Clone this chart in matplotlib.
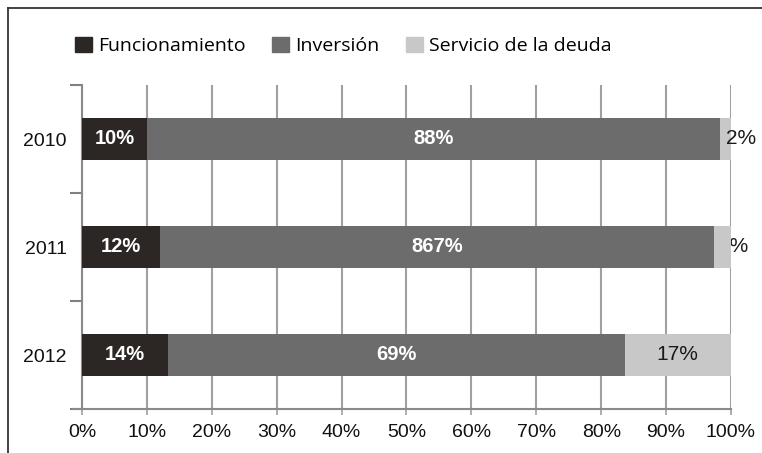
import matplotlib
matplotlib.use("Agg")
import matplotlib.pyplot as plt
from matplotlib.lines import Line2D
from matplotlib.patches import Patch
import numpy as np

years = ["2010", "2011", "2012"]
funcionamiento = [10, 12, 13.3]
inversion = [88.3, 85.4, 70.3]
servicio = [1.7, 2.6, 16.4]
lab_func = ["10%", "12%", "14%"]
lab_inv = ["88%", "867%", "69%"]
lab_serv = ["2%", "3%", "17%"]
series_names = ["Funcionamiento", "Inversión", "Servicio de la deuda"]
xticks = [0, 10, 20, 30, 40, 50, 60, 70, 80, 90, 100]
xticklabels = [f"{v}%" for v in xticks]

c_func = "#2c2624"
c_inv = "#6d6c6c"
c_serv = "#c8c8c8"
grid_c = "#a0a0a0"

sans = ["Liberation Sans", "DejaVu Sans"]

fig = plt.figure(figsize=(7.62, 4.53), dpi=100)
ax = fig.add_axes([82/762, 1-409/453, (731-82)/762, (409-85)/453])

y = np.arange(len(years))
h = 0.39
f = np.array(funcionamiento)
i = np.array(inversion)
s = np.array(servicio)

ax.set_xlim(0, 100)
ax.set_ylim(2.5, -0.5)
ax.set_xticks(xticks)
ax.xaxis.grid(True, color=grid_c, linewidth=1.5, zorder=0)
ax.set_axisbelow(True)

ax.barh(y, f, height=h, color=c_func, zorder=3)
ax.barh(y, i, left=f, height=h, color=c_inv, zorder=3)
ax.barh(y, s, left=f + i, height=h, color=c_serv, zorder=3)

for k in range(len(years)):
    ax.text(f[k] / 2, y[k], lab_func[k], ha="center", va="center", color="white",
            fontsize=14.5, fontweight="bold", family=sans, zorder=5)
    ax.text(f[k] + i[k] / 2, y[k], lab_inv[k], ha="center", va="center", color="white",
            fontsize=14.5, fontweight="bold", family=sans, zorder=5)
    if s[k] > 8:
        ax.text(f[k] + i[k] + s[k] / 2, y[k], lab_serv[k], ha="center", va="center",
                color="#1a1a1a", fontsize=15, family=sans, zorder=5)
    elif k == 0:
        ax.text(99.3, y[k], lab_serv[k], ha="left", va="center",
                color="#1a1a1a", fontsize=15, family=sans, zorder=5, clip_on=False)
    else:
        ax.text(98.1, y[k], lab_serv[k], ha="left", va="center",
                color="#1a1a1a", fontsize=15, family=sans, zorder=2, clip_on=False)

ax.set_xticklabels(xticklabels, fontsize=14, family=sans, color="#111111")
ax.set_yticks(y)
ax.set_yticklabels(years, fontsize=14, family=sans, color="#111111")
ax.set_yticks([-0.5, 0.5, 1.5, 2.5], minor=True)
ax.tick_params(axis="y", which="major", length=0, pad=11)
ax.tick_params(axis="y", which="minor", length=9, width=1.5, color="#808080")
ax.tick_params(axis="x", which="major", length=4, width=1.2, color=grid_c, pad=7)

for side in ["top", "right"]:
    ax.spines[side].set_visible(False)
for side in ["left", "bottom"]:
    ax.spines[side].set_color("#8a8a8a")
    ax.spines[side].set_linewidth(1.5)
ax.spines["bottom"].set_bounds(-1.4, 100)

handles = [Patch(color=c_func), Patch(color=c_inv), Patch(color=c_serv)]
fig.legend(handles, series_names, loc="center left", bbox_to_anchor=(57/762, 1-46/453),
           ncol=3, frameon=False, prop={"family": "Open Sans", "size": 14},
           handlelength=0.9, handleheight=0.85, handletextpad=0.3, columnspacing=1.35)

fig.add_artist(Line2D([8/762, 8/762], [0, 1-8/453], color="#3a3230", linewidth=1.3))
fig.add_artist(Line2D([8/762, 1], [1-8/453, 1-8/453], color="#3a3230", linewidth=1.3))

fig.savefig("out.png", dpi=100)
